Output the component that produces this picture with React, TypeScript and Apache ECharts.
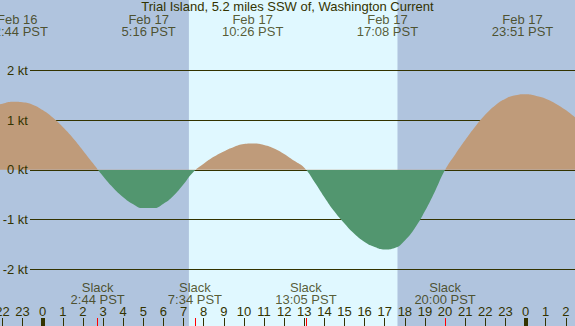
import React, { useEffect, useRef } from "react";
import * as echarts from "echarts";

const curveHours = [
  -3, -2.5, -2, -1.5, -1, -0.5, 0, 0.5, 1, 1.5, 2, 2.5, 3, 3.5, 4, 4.5, 5, 5.5, 6, 6.5, 7, 7.5,
  8, 8.5, 9, 9.5, 10, 10.5, 11, 11.5, 12, 12.5, 13, 13.5, 14, 14.5, 15, 15.5, 16, 16.5, 17, 17.5,
  18, 18.5, 19, 19.5, 20, 20.5, 21, 21.5, 22, 22.5, 23, 23.5, 24, 24.5, 25, 25.5, 26, 26.5, 27,
];
const curveKnots = [
  1.17, 1.27, 1.33, 1.37, 1.36, 1.31, 1.2, 1.05, 0.86, 0.64, 0.39, 0.13, -0.13, -0.36, -0.55, -0.69, -0.77, -0.77, -0.68, -0.52, -0.29, -0.04,
  0.12, 0.26, 0.37, 0.46, 0.52, 0.53, 0.5, 0.43, 0.32, 0.18, 0.04, -0.24, -0.55, -0.84, -1.08, -1.29, -1.45, -1.55, -1.6, -1.57,
  -1.42, -1.17, -0.83, -0.43, 0, 0.31, 0.6, 0.87, 1.11, 1.3, 1.43, 1.5, 1.52, 1.49, 1.43, 1.33, 1.2, 1.04, 0.87,
];

const maxDates = ["Feb 16", "Feb 17", "Feb 17", "Feb 17", "Feb 17"];
const maxTimes = ["22:44", "5:16", "10:26", "17:08", "23:51"];
const maxDayOffsets = [-1, 0, 0, 0, 0];
const slackTimes = ["2:44", "7:34", "13:05", "20:00"];
const sunTimes = ["7:16", "17:38"];
const midnightHours = [0, 24];
const speedMin = -2;
const speedMax = 2;
const titleText = "Trial Island, 5.2 miles SSW of, Washington Current";

// ---- layout / style ----
const W = 575;
const H = 326;
const FONT = "'Liberation Sans', Arial, Helvetica, sans-serif";
const INK = "#333300";
const NIGHT = "#b0c4de";
const DAY = "#e0f8ff";
const FLOOD = "#bf9b7a";
const EBB = "#52966f";

const X0 = 42.7; // px of Feb 17 00:00
const PXH = 20.12; // px per hour
const XMIN = -3;
const XMAX = 27;
const gridLeft = X0 + XMIN * PXH;
const gridRight = W - (X0 + XMAX * PXH);
const Y0 = 169.8; // px of 0 kt
const PXK = 49.75; // px per knot

const toHours = (s: string, dayOffset = 0) => {
  const [h, m] = s.split(":").map(Number);
  return h + m / 60 + 24 * dayOffset;
};

export default function App() {
  const ref = useRef<HTMLDivElement>(null);
  useEffect(() => {
    const chart = echarts.init(ref.current!, undefined, { renderer: "svg", width: W, height: H });
    const curve = curveHours.map((h, i) => [h, curveKnots[i]]);
    const sun = sunTimes.map((s) => toHours(s));
    const textStyle = { color: INK, fontSize: 13, fontFamily: FONT };
    const gridBase = { outerBoundsMode: "none", containLabel: false };
    const speedGrid = { ...gridBase, left: 30, right: 0, top: Y0 - speedMax * PXK, bottom: H - (Y0 - speedMin * PXK) };

    const option: any = {
      animation: false,
      backgroundColor: NIGHT,
      title: {
        text: titleText,
        left: "center",
        top: 0,
        padding: 0,
        textStyle: { ...textStyle, fontWeight: "normal" },
      },
      grid: [
        { ...gridBase, left: gridLeft, right: gridRight, top: Y0 - 4 * PXK, bottom: H - (Y0 + 4 * PXK) },
        speedGrid,
        { ...gridBase, left: gridLeft, right: gridRight, bottom: 0, height: 8 },
        { ...gridBase, left: gridLeft, right: gridRight, top: 0, bottom: 0 },
        speedGrid,
      ],
      xAxis: [
        { gridIndex: 0, type: "value", min: XMIN, max: XMAX, show: false },
        { gridIndex: 1, type: "value", min: 0, max: 1, show: false },
        {
          gridIndex: 2,
          type: "value",
          min: XMIN,
          max: XMAX,
          interval: 1,
          z: 2,
          axisLine: { show: false },
          splitLine: { show: false },
          axisTick: { inside: true, length: 8, lineStyle: { color: INK, width: 1 } },
          axisLabel: {
            inside: true,
            margin: 8,
            hideOverlap: false,
            ...textStyle,
            formatter: (v: number) => String(((Math.round(v) % 24) + 24) % 24),
          },
        },
        { gridIndex: 3, type: "value", min: XMIN, max: XMAX, show: false },
        { gridIndex: 4, type: "value", min: 0, max: 1, show: false },
      ],
      yAxis: [
        { gridIndex: 0, type: "value", min: -4, max: 4, show: false },
        {
          gridIndex: 1,
          type: "value",
          min: speedMin,
          max: speedMax,
          interval: 1,
          z: 2,
          axisLine: { show: false },
          axisTick: { show: false },
          axisLabel: { show: false },
          splitLine: { show: true, lineStyle: { color: INK, width: 1 } },
        },
        { gridIndex: 2, type: "value", min: 0, max: 1, show: false },
        { gridIndex: 3, type: "value", min: 0, max: H, inverse: true, show: false },
        {
          gridIndex: 4,
          type: "value",
          min: speedMin,
          max: speedMax,
          interval: 1,
          z: 6,
          axisLine: { show: false },
          axisTick: { show: false },
          splitLine: { show: false },
          axisLabel: { formatter: "{value} kt", margin: 2, ...textStyle },
        },
      ],
      visualMap: {
        type: "piecewise",
        show: false,
        seriesIndex: 1,
        dimension: 1,
        pieces: [
          { gte: -10, lt: 0, color: EBB },
          { gte: 0, lte: 10, color: FLOOD },
        ],
      },
      series: [
        {
          type: "line",
          xAxisIndex: 0,
          yAxisIndex: 0,
          z: 1,
          silent: true,
          data: [
            [sun[0], 4],
            [sun[1], 4],
          ],
          symbol: "none",
          lineStyle: { width: 0 },
          areaStyle: { color: DAY, opacity: 1, origin: "start" },
        },
        {
          type: "line",
          xAxisIndex: 0,
          yAxisIndex: 0,
          z: 3,
          silent: true,
          data: curve,
          smooth: true,
          symbol: "none",
          lineStyle: { width: 0 },
          areaStyle: { opacity: 1 },
        },
        {
          type: "line",
          xAxisIndex: 2,
          yAxisIndex: 2,
          z: 4,
          silent: true,
          data: [[XMIN, 0]],
          symbol: "none",
          lineStyle: { width: 0 },
          markLine: {
            silent: true,
            symbol: ["none", "none"],
            label: { show: false },
            data: [
              ...midnightHours.map((h) => [
                { coord: [h, 0], lineStyle: { color: INK, width: 4, type: "solid" } },
                { coord: [h, 1] },
              ]),
              ...slackTimes.map((s) => [
                { coord: [toHours(s), 0], lineStyle: { color: "#ff0000", width: 1, type: "solid" } },
                { coord: [toHours(s), 1] },
              ]),
            ],
          },
        },
        {
          type: "scatter",
          xAxisIndex: 3,
          yAxisIndex: 3,
          z: 5,
          silent: true,
          symbolSize: 1,
          itemStyle: { color: "rgba(0,0,0,0)" },
          data: maxTimes.map((t, i) => ({
            value: [toHours(t, maxDayOffsets[i]), 25.5],
            name: `${maxDates[i]}\n${t} PST`,
          })),
          label: {
            show: true,
            position: "inside",
            formatter: "{b}",
            align: "center",
            verticalAlign: "middle",
            lineHeight: 12,
            ...textStyle,
          },
        },
        {
          type: "scatter",
          xAxisIndex: 3,
          yAxisIndex: 3,
          z: 5,
          silent: true,
          symbolSize: 1,
          itemStyle: { color: "rgba(0,0,0,0)" },
          data: slackTimes.map((t) => ({
            value: [toHours(t), 293],
            name: `Slack\n${t} PST`,
          })),
          label: {
            show: true,
            position: "inside",
            formatter: "{b}",
            align: "center",
            verticalAlign: "middle",
            lineHeight: 12,
            ...textStyle,
          },
        },
      ],
    };
    chart.setOption(option);
    return () => chart.dispose();
  }, []);
  return <div ref={ref} style={{ position: "fixed", left: 0, top: 0, width: W, height: H }} />;
}
